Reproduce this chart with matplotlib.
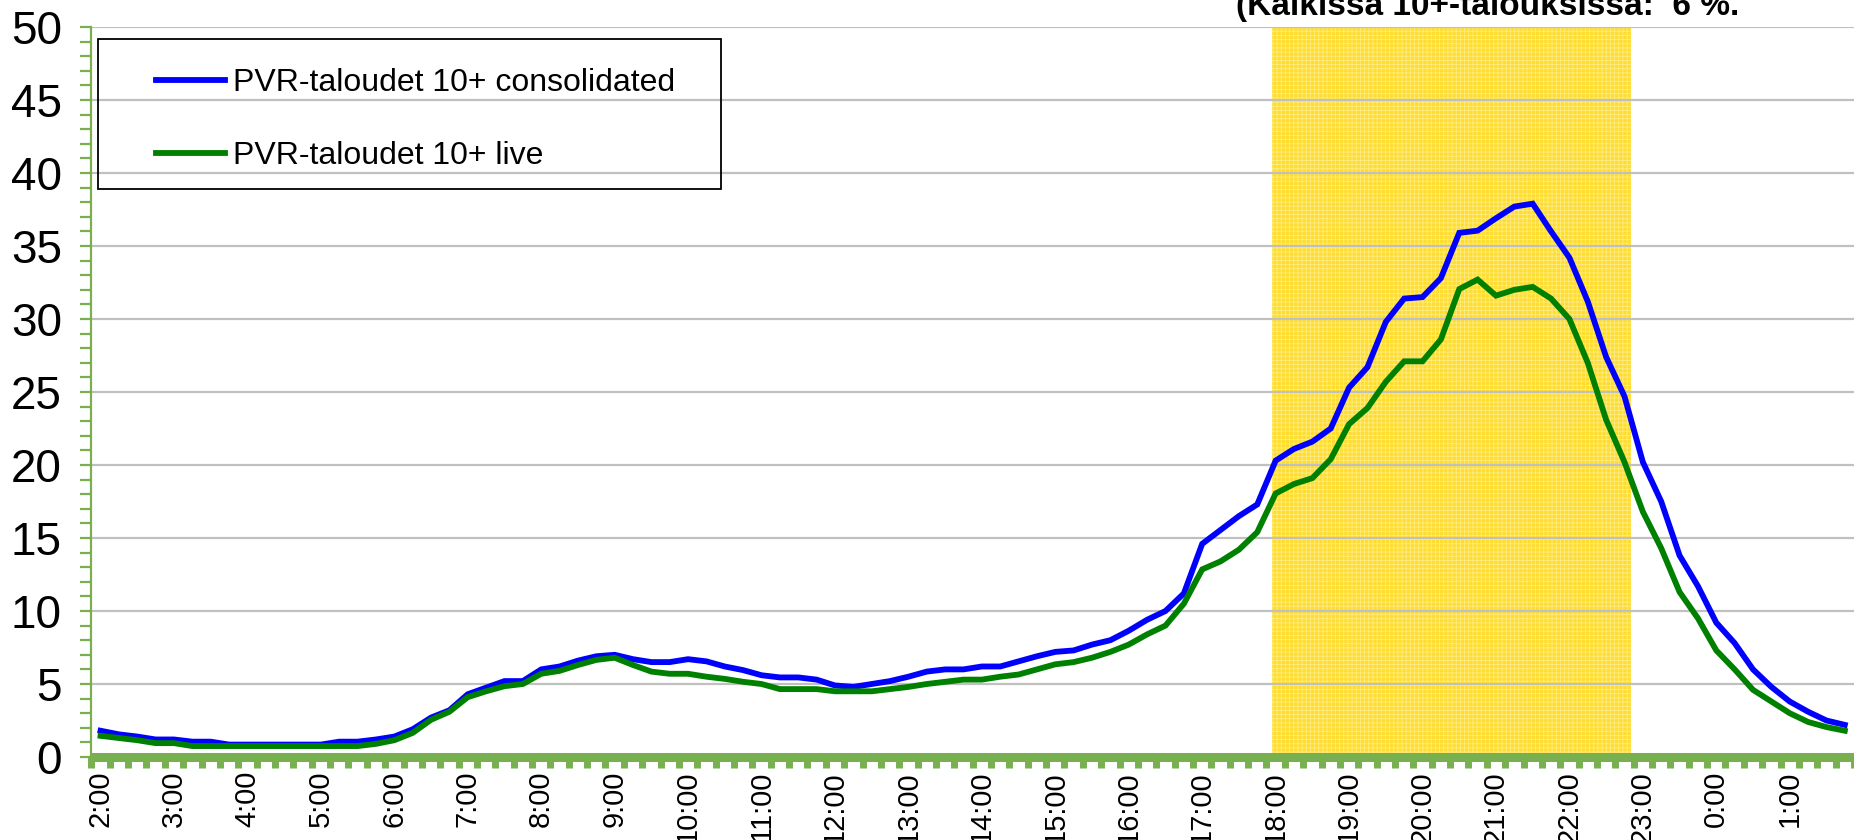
import matplotlib
matplotlib.use("Agg")
import matplotlib.pyplot as plt
from matplotlib.patches import Rectangle

plt.rcParams['font.family'] = ['Liberation Sans', 'DejaVu Sans']
plt.rcParams['hatch.linewidth'] = 0.6

# 15 minuutin välein, 2:00 -> 1:45
blue_consolidated = [
    1.8, 1.55, 1.4, 1.2,      # 2
    1.2, 1.05, 1.05, 0.85,    # 3
    0.85, 0.85, 0.85, 0.85,   # 4
    0.85, 1.05, 1.05, 1.2,    # 5
    1.4, 1.9, 2.7, 3.2,       # 6
    4.3, 4.75, 5.2, 5.2,      # 7
    6.0, 6.2, 6.6, 6.9,       # 8
    7.0, 6.7, 6.5, 6.5,       # 9
    6.7, 6.55, 6.2, 5.95,     # 10
    5.6, 5.45, 5.45, 5.3,     # 11
    4.9, 4.8, 5.0, 5.2,       # 12
    5.5, 5.85, 6.0, 6.0,      # 13
    6.2, 6.2, 6.55, 6.9,      # 14
    7.2, 7.3, 7.7, 8.0,       # 15
    8.65, 9.4, 10.0, 11.2,    # 16
    14.6, 15.55, 16.5, 17.3,  # 17
    20.3, 21.1, 21.6, 22.5,   # 18
    25.3, 26.7, 29.8, 31.4,   # 19
    31.5, 32.8, 35.9, 36.05,  # 20
    36.9, 37.7, 37.9, 36.0,   # 21
    34.2, 31.2, 27.4, 24.7,   # 22
    20.2, 17.5, 13.8, 11.7,   # 23
    9.2, 7.8, 6.0, 4.8,       # 0
    3.8, 3.1, 2.5, 2.2,       # 1
]
green_live = [
    1.45, 1.3, 1.15, 0.95,    # 2
    0.95, 0.75, 0.75, 0.75,   # 3
    0.75, 0.75, 0.75, 0.75,   # 4
    0.75, 0.75, 0.75, 0.9,    # 5
    1.15, 1.65, 2.55, 3.1,    # 6
    4.1, 4.5, 4.85, 5.0,      # 7
    5.7, 5.9, 6.3, 6.65,      # 8
    6.8, 6.3, 5.85, 5.7,      # 9
    5.7, 5.5, 5.35, 5.15,     # 10
    5.0, 4.65, 4.65, 4.65,    # 11
    4.5, 4.5, 4.5, 4.65,      # 12
    4.8, 5.0, 5.15, 5.3,      # 13
    5.3, 5.5, 5.65, 6.0,      # 14
    6.35, 6.5, 6.8, 7.2,      # 15
    7.7, 8.4, 9.0, 10.5,      # 16
    12.85, 13.4, 14.2, 15.4,  # 17
    18.05, 18.7, 19.1, 20.4,  # 18
    22.8, 23.9, 25.7, 27.1,   # 19
    27.1, 28.6, 32.05, 32.7,  # 20
    31.6, 32.0, 32.2, 31.4,   # 21
    30.0, 27.0, 23.1, 20.2,   # 22
    16.8, 14.3, 11.3, 9.5,    # 23
    7.3, 6.0, 4.6, 3.8,       # 0
    3.0, 2.4, 2.05, 1.8,      # 1
]
hour_labels = ["2:00", "3:00", "4:00", "5:00", "6:00", "7:00", "8:00", "9:00",
               "10:00", "11:00", "12:00", "13:00", "14:00", "15:00", "16:00",
               "17:00", "18:00", "19:00", "20:00", "21:00", "22:00", "23:00",
               "0:00", "1:00"]
label_blue = "PVR-taloudet 10+ consolidated"
label_green = "PVR-taloudet 10+ live"
note_text = "(Kaikissa 10+-talouksissa:  6 %."

# prime time -korostus (indeksit 15 min jaksoina)
prime_start = 63.8
prime_end = 83.35

W, H = 1854, 840
axis_green = "#79B04F"

fig = plt.figure(figsize=(W / 100, H / 100), dpi=100)
ax = fig.add_axes([91 / W, 83 / H, (W - 91) / W, (757 - 27) / H])

x = list(range(len(blue_consolidated)))
ax.axvspan(prime_start, prime_end, facecolor="#FFDD30", edgecolor="#FFEC80",
           hatch="++++", linewidth=0, zorder=0.2)
ax.plot(x, blue_consolidated, color="#0000FF", lw=4.2, label=label_blue,
        solid_joinstyle="miter", zorder=3)
ax.plot(x, green_live, color="#008000", lw=4.2, label=label_green,
        solid_joinstyle="miter", zorder=4)

ax.set_xlim(-0.52, (W - 100.7) / 18.55)
ax.set_ylim(0, 50)

ax.set_yticks(range(0, 51, 5))
ax.set_yticks(range(0, 51, 1), minor=True)
ax.yaxis.grid(True, which="major", color="#C0C0C0", lw=1.6)
ax.set_axisbelow(True)
ax.tick_params(axis="y", which="both", direction="out", length=8, width=1.6,
               color=axis_green, labelsize=33, pad=13)
ax.tick_params(axis="y", which="minor", labelleft=False)

ax.set_xticks(range(0, len(x), 4))
ax.set_xticklabels(hour_labels, rotation=90)
ax.set_xticks([i + 0.5 for i in range(-1, len(x))], minor=True)
ax.tick_params(axis="x", which="major", length=0, labelsize=21, pad=10)
ax.tick_params(axis="x", which="minor", direction="out", length=8, width=5,
               color=axis_green)

for side in ("top", "right"):
    ax.spines[side].set_visible(False)
ax.spines["left"].set_color(axis_green)
ax.spines["left"].set_linewidth(1.6)
ax.spines["bottom"].set_color(axis_green)
ax.spines["bottom"].set_linewidth(6.5)
ax.spines["bottom"].set_capstyle("butt")

# selite: kehys erikseen, rivit legendillä
fig.patches.append(Rectangle((98 / W, 1 - 189 / H), (721 - 98) / W, 150 / H,
                             transform=fig.transFigure, fill=False,
                             edgecolor="black", lw=1.3, zorder=10))
leg = ax.legend(loc="upper left", bbox_to_anchor=(156 / W, 1 - 68 / H),
                bbox_transform=fig.transFigure, frameon=False, fontsize=23,
                borderpad=0, borderaxespad=0, handlelength=2.15,
                handletextpad=0.25, labelspacing=1.35)
for line in leg.get_lines():
    line.set_linewidth(4.2)

fig.text(1236 / W, 1 - 15 / H, note_text, fontsize=24, fontweight="bold",
         va="baseline", ha="left")

fig.savefig("out.png", dpi=100)
